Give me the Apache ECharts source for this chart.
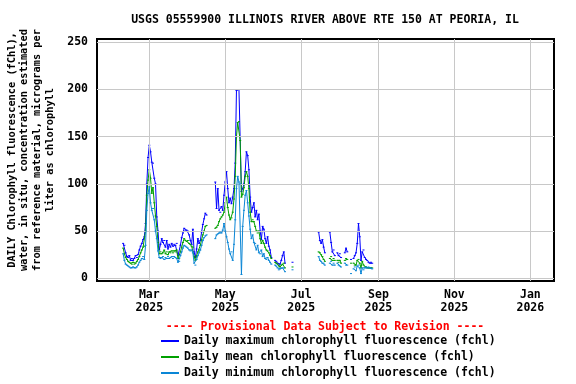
<!DOCTYPE html>
<html>
<head>
<meta charset="utf-8">
<script src="https://cdn.jsdelivr.net/npm/echarts@6/dist/echarts.min.js"></script>
<style>
html,body{margin:0;padding:0;background:#fff;}
#chart{width:576px;height:384px;}
</style>
</head>
<body>
<div id="chart"></div>
<script>
// ---- data ----
const titleText = 'USGS 05559900 ILLINOIS RIVER ABOVE RTE 150 AT PEORIA, IL';
const yAxisName = 'DAILY Chlorophyll fluorescence (fChl),\nwater, in situ, concentration estimated\nfrom reference material, micrograms per\nliter as chlorophyll';
const provisionalText = '---- Provisional Data Subject to Revision ----';
const seriesNames = [
  'Daily maximum chlorophyll fluorescence (fchl)',
  'Daily mean chlorophyll fluorescence (fchl)',
  'Daily minimum chlorophyll fluorescence (fchl)'
];
// first day of the daily arrays: 2025-02-08
const firstDay = [2025, 2, 8];
const maxVals = [
  37,35,27,23,22,24,19,21,19,21,
  24,22,25,30,34,37,41,44,58,100,
  128,141,134,123,122,106,100,65,50,30,
  36,42,38,40,33,40,31,36,33,37,
  34,36,35,37,24,25,35,43,48,53,
  51,51,50,46,40,36,52,28,22,31,
  42,37,40,49,57,63,69,67,
  null,null,null,null,null,null,
  102,74,95,72,70,76,72,88,102,113,
  95,80,85,79,86,95,122,199,200,200,
  200,92,95,100,113,134,130,115,86,70,
  75,80,65,72,62,68,50,41,55,52,
  42,37,44,34,30,22,
  null,null,
  19,18,16,14,15,19,24,28,16,
  null,null,null,null,null,
  17,
  null,null,null,null,null,null,null,null,null,null,null,null,null,null,null,null,null,null,null,null,
  49,40,37,41,33,27,
  null,null,null,
  49,38,28,30,24,
  null,
  27,24,26,22,
  null,null,
  27,32,28,
  null,null,
  20,
  null,
  21,24,27,37,58,44,19,28,30,22,20,19,17,16,17,16
];
const meanVals = [
  32,26,22,20,18,17,16,15,17,15,
  16,18,20,23,27,30,33,34,50,88,
  104,115,106,90,96,80,66,55,38,26,
  28,26,27,30,26,28,25,28,27,29,
  27,29,28,30,21,21,28,33,38,42,
  40,39,40,37,36,34,33,23,19,24,
  28,30,35,41,46,50,55,56,
  null,null,null,null,null,null,
  53,54,56,60,63,65,67,70,80,86,
  75,67,62,64,70,84,108,150,165,166,
  146,86,89,96,108,113,108,95,70,60,
  62,60,55,50,48,50,42,37,40,37,
  33,30,29,27,24,21,
  null,null,
  17,16,15,13,12,14,15,16,11,
  null,null,null,null,null,
  12,
  null,null,null,null,null,null,null,null,null,null,null,null,null,null,null,null,null,null,null,null,
  28,27,25,23,20,18,
  null,null,null,
  21,23,19,21,19,
  null,
  19,17,19,16,
  null,null,
  19,21,20,
  null,null,
  16,
  null,
  16,14,14,19,20,16,11,18,14,12,12,11,11,11,11,11
];
const minVals = [
  26,19,15,14,13,12,11,11,12,11,
  11,12,14,17,19,21,23,20,35,72,
  90,97,80,72,74,62,50,42,29,22,
  21,22,23,20,22,21,23,21,22,23,
  21,23,22,21,17,18,24,28,32,35,
  34,33,32,30,29,30,27,16,14,20,
  24,27,30,35,40,43,45,46,
  null,null,null,null,null,null,
  42,46,47,48,49,48,51,58,50,44,
  38,31,26,28,19,36,62,95,108,102,
  100,4,55,72,88,93,80,66,52,42,
  46,38,37,30,35,27,26,30,23,26,
  21,20,22,19,17,15,
  null,null,
  14,13,11,9,10,11,11,11,7,
  null,null,null,null,null,
  9,
  null,null,null,null,null,null,null,null,null,null,null,null,null,null,null,null,null,null,null,null,
  23,19,18,16,16,14,
  null,null,null,
  16,18,14,16,14,
  null,
  16,14,13,12,
  null,null,
  16,14,14,
  null,null,
  5,
  null,
  10,12,8,13,14,11,5,11,9,11,12,11,12,11,11,10
];
const xTickDates = [[2025,3,1],[2025,5,1],[2025,7,1],[2025,9,1],[2025,11,1],[2026,1,1]];
const xTickLabels = ['Mar\n2025','May\n2025','Jul\n2025','Sep\n2025','Nov\n2025','Jan\n2026'];
const yTicks = [0,50,100,150,200,250];
const xRange = [[2025,1,18],[2026,1,20]];
const yRange = [-2.86, 253.5];

// ---- build ----
const ts = (a) => Date.UTC(a[0], a[1]-1, a[2]);
const dayTs = (i) => Date.UTC(firstDay[0], firstDay[1]-1, firstDay[2] + i);
const toPairs = (vals) => vals.map((v, i) => [dayTs(i), v]);
const xTickTs = xTickDates.map(ts);

const FONT = '"DejaVu Sans Mono", "Liberation Mono", monospace';
const colors = ['#0000ff', '#00a000', '#0a86d6'];

const chart = echarts.init(document.getElementById('chart'), null, {renderer: 'canvas'});

const dataSeries = [maxVals, meanVals, minVals].map((vals, k) => ({
  name: seriesNames[k],
  type: 'line',
  data: toPairs(vals),
  connectNulls: false,
  showSymbol: true,
  showAllSymbol: true,
  symbol: 'rect',
  symbolSize: [2, 1],
  itemStyle: {color: colors[k]},
  lineStyle: {color: colors[k], width: 1},
  z: 3 + k,
  silent: true
}));

const gridSeries = {
  type: 'line',
  data: [],
  z: 1,
  silent: true,
  markLine: {
    silent: true,
    symbol: ['none', 'none'],
    label: {show: false},
    lineStyle: {color: '#c8c8c8', width: 1, type: 'solid'},
    emphasis: {disabled: true},
    animation: false,
    data: yTicks.map(v => ({yAxis: v})).concat(xTickTs.map(t => ({xAxis: t})))
  }
};

chart.setOption({
  animation: false,
  backgroundColor: '#ffffff',
  grid: {
    left: 97, right: 22, top: 39, bottom: 103,
    show: true, borderColor: '#000', borderWidth: 2, backgroundColor: 'transparent',
    containLabel: false, outerBoundsMode: 'none'
  },
  xAxis: {
    type: 'value',
    min: ts(xRange[0]), max: ts(xRange[1]),
    axisLine: {show: false},
    axisTick: {show: false},
    splitLine: {show: false},
    axisLabel: {
      customValues: xTickTs,
      formatter: (v) => {
        const i = xTickTs.indexOf(v);
        return i >= 0 ? xTickLabels[i] : '';
      },
      margin: 8,
      color: '#000',
      fontFamily: FONT, fontWeight: 'bold', fontSize: 11.5, lineHeight: 13,
      hideOverlap: false
    }
  },
  yAxis: {
    type: 'value',
    min: yRange[0], max: yRange[1],
    axisLine: {show: false},
    axisTick: {show: false},
    splitLine: {show: false},
    axisLabel: {
      customValues: yTicks,
      margin: 9,
      color: '#000',
      fontFamily: FONT, fontWeight: 'bold', fontSize: 11.5
    }
  },
  legend: {
    type: 'plain',
    data: seriesNames,
    orient: 'vertical',
    left: 161, top: 333,
    height: 60,
    padding: 0,
    itemWidth: 18, itemHeight: 2, itemGap: 0,
    icon: 'rect',
    selectedMode: false,
    textStyle: {color: '#000', fontFamily: FONT, fontWeight: 'bold', fontSize: 11.5, lineHeight: 16}
  },
  graphic: [
    {type: 'text', x: 325, y: 20, silent: true,
     style: {text: titleText, font: 'bold 11.5px ' + FONT, fill: '#000',
             align: 'center', verticalAlign: 'middle', textAlign: 'center', textVerticalAlign: 'middle'}},
    {type: 'text', x: 31, y: 150, rotation: Math.PI / 2, silent: true,
     style: {text: yAxisName, font: 'bold 10.3px ' + FONT, fill: '#000', lineHeight: 12.7,
             align: 'center', verticalAlign: 'middle', textAlign: 'center', textVerticalAlign: 'middle'}},
    {type: 'text', x: 325, y: 327, silent: true,
     style: {text: provisionalText, font: 'bold 11.5px ' + FONT, fill: '#ff0000',
             align: 'center', verticalAlign: 'middle', textAlign: 'center', textVerticalAlign: 'middle'}}
  ],
  series: [gridSeries].concat(dataSeries)
});
</script>
</body>
</html>
